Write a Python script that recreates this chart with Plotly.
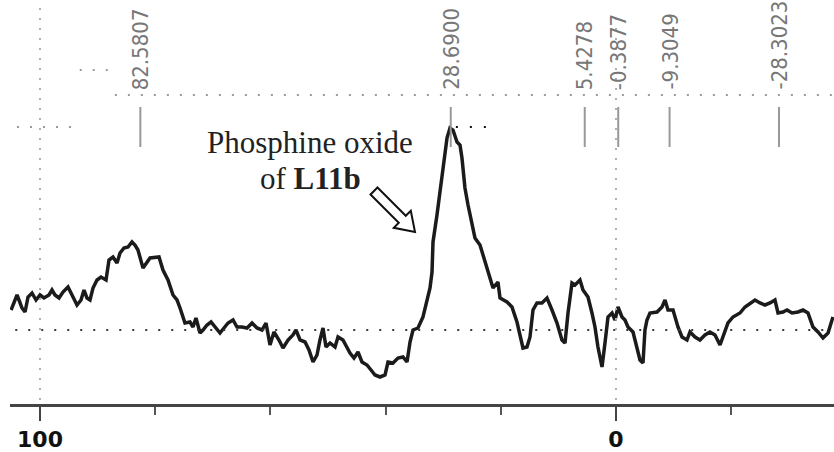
import plotly.graph_objects as go

# ── Spectrum ──────────────────────────────────────────────────────────────────
ppm = [105.03, 104.51, 103.99, 103.65, 103.13, 102.60, 102.08, 101.39, 100.69, 100.00,
       99.31, 98.44, 97.92, 97.40, 96.70, 96.01, 95.14, 94.44, 93.58, 92.88,
       92.36, 91.84, 91.32, 90.80, 90.10, 89.41, 88.54, 88.02, 87.33, 86.63,
       86.11, 85.42, 84.72, 84.03, 83.51, 82.99, 82.12, 80.90, 79.34, 78.65,
       77.78, 76.91, 76.22, 75.69, 75.35, 74.83, 73.96, 73.44, 72.92, 72.22,
       71.70, 71.01, 70.31, 69.62, 68.75, 68.06, 67.36, 66.49, 65.80, 64.93,
       64.06, 63.19, 62.33, 61.46, 60.76, 60.07, 59.38, 58.51, 57.81, 56.94,
       56.08, 55.56, 54.86, 53.99, 53.30, 52.60, 51.91, 51.39, 50.87, 50.35,
       49.65, 48.78, 48.26, 47.40, 46.70, 46.18, 45.49, 44.79, 44.10, 43.23,
       42.53, 41.84, 40.97, 40.10, 39.58, 38.72, 37.85, 36.98, 36.28, 35.76,
       35.24, 34.38, 33.51, 33.16, 32.29, 31.94, 31.77, 31.08, 30.56, 30.03,
       29.34, 28.82, 28.30, 27.60, 27.08, 26.74, 26.22, 25.69, 25.00, 24.48,
       23.61, 22.74, 21.88, 21.35, 20.49, 20.14, 18.92, 18.06, 17.19, 16.67,
       16.15, 15.45, 14.93, 14.41, 13.72, 12.85, 11.98, 11.11, 10.24, 9.38,
       8.85, 8.33, 7.64, 7.12, 6.25, 5.73, 4.86, 4.17, 3.65, 3.13,
       2.43, 1.91, 1.39, 0.69, 0.17, -0.35, -1.04, -1.56, -2.08, -2.95,
       -3.65, -4.17, -4.69, -5.03, -5.38, -5.90, -7.12, -7.99, -8.51, -9.03,
       -9.90, -10.76, -11.46, -12.33, -12.85, -13.72, -14.58, -15.45, -16.32, -17.19,
       -18.06, -18.58, -19.44, -20.31, -21.53, -22.40, -23.26, -24.13, -25.00, -25.87,
       -26.74, -27.60, -28.13, -28.99, -29.69, -30.56, -31.60, -32.47, -33.33, -34.20,
       -35.07, -35.94, -36.81, -37.50, -37.67]
intensidade = [20, 28, 35, 30, 22, 18, 33, 37, 30, 35,
               32, 35, 40, 35, 32, 38, 43, 35, 25, 30,
               40, 32, 30, 42, 50, 53, 50, 70, 73, 67,
               77, 82, 83, 88, 85, 80, 62, 72, 73, 60,
               50, 35, 30, 22, 15, 7, 8, 3, 12, -3,
               0, 5, 8, 3, -3, 2, 7, 10, 3, 3,
               2, 7, 2, 0, 7, -15, -2, -10, -18, -10,
               -5, 0, -10, -12, -20, -32, -25, -10, 2, -17,
               -13, -17, -7, -10, -17, -23, -28, -22, -32, -35,
               -40, -45, -47, -45, -32, -33, -28, -27, -32, -12,
               0, 2, 13, 22, 42, 58, 88, 115, 138, 165,
               192, 202, 200, 188, 185, 172, 142, 125, 108, 92,
               85, 68, 52, 42, 48, 32, 28, 23, 8, -7,
               -18, -17, -7, 20, 27, 27, 32, 20, 7, -10,
               -13, 17, 47, 45, 50, 40, 33, 17, 3, -17,
               -37, -13, 13, 17, 10, 23, 13, 10, 3, -2,
               -17, -30, -33, 0, 10, 17, 18, 23, 30, 20,
               20, 3, -7, -10, -2, -7, -10, -5, -2, -5,
               -15, -7, 7, 13, 17, 23, 27, 30, 27, 25,
               27, 30, 17, 18, 20, 17, 18, 20, 17, 3,
               -2, -8, -3, 12, 13]

# picos marcados no topo
picos = [82.5807, 28.6900, 5.4278, -0.3877, -9.3049, -28.3023]
picos_txt = ["82.5807", "28.6900", "5.4278", "-0.3877", "-9.3049", "-28.3023"]

eixo_vals = [100, 0]
eixo_txt = ["100", "0"]

# ── Geometria da janela ───────────────────────────────────────────────────────
W, H = 834, 452
ML, MB = 10, 48
X_RANGE = [105.21, -37.85]
Y_RANGE = [-74, 330]


def px(xp, yp):
    """pixel da janela -> coordenadas paper"""
    return (xp - ML) / (W - ML), 1 - yp / (H - MB)


fig = go.Figure()

fig.add_trace(go.Scatter(
    x=ppm, y=intensidade, mode="lines",
    line=dict(color="#1b1b1b", width=3.5),
    hoverinfo="skip", showlegend=False,
))

# ── Linhas pontilhadas de referência ──────────────────────────────────────────
pont_cinza = dict(color="#9a9a9a", width=2, dash="2px,11px")
pont_escuro = dict(color="#3a3a3a", width=2, dash="2px,11px")
pont_vert = dict(color="#b0b0b0", width=2, dash="2px,8px")

fig.add_shape(type="line", xref="x", yref="y", x0=104.3, x1=X_RANGE[1], y0=0, y1=0, line=pont_escuro)
fig.add_shape(type="line", xref="x", yref="y", x0=87.0, x1=X_RANGE[1], y0=235, y1=235, line=pont_cinza)
fig.add_shape(type="line", xref="x", yref="y", x0=93.1, x1=88.2, y0=260, y1=260, line=pont_cinza)
fig.add_shape(type="line", xref="x", yref="y", x0=104.0, x1=93.8, y0=203, y1=203, line=pont_cinza)
fig.add_shape(type="line", xref="x", yref="y", x0=27.8, x1=21.9, y0=203, y1=203,
              line=dict(color="#111", width=2, dash="2px,12px"))
fig.add_shape(type="line", xref="x", yref="y", x0=100, x1=100, y0=-70, y1=325, line=pont_vert)
fig.add_shape(type="line", xref="x", yref="y", x0=0, x1=0, y0=-70, y1=315, line=pont_vert)

# ── Marcadores e rótulos dos picos ────────────────────────────────────────────
for p, t in zip(picos, picos_txt):
    fig.add_shape(type="line", xref="x", yref="y", x0=p, x1=p, y0=183, y1=223,
                  line=dict(color="#999", width=2))
    fig.add_annotation(
        x=p, y=238, xref="x", yref="y", text=t, textangle=-90,
        showarrow=False, xanchor="center", yanchor="bottom",
        font=dict(family="Liberation Sans Narrow, DejaVu Sans Condensed, Arial", size=22, color="#777"),
    )

# ── Texto e seta vazada ───────────────────────────────────────────────────────
for linha, yc in [("Phosphine oxide", 142), ("of <b>L11b</b>", 179)]:
    xa, ya = px(310, yc)
    fig.add_annotation(x=xa, y=ya, xref="paper", yref="paper", text=linha, showarrow=False,
                       xanchor="center", yanchor="middle",
                       font=dict(family="Liberation Serif, Times New Roman", size=31, color="#222"))

seta = [(377.5, 187.5), (405.8, 215.8), (410.8, 210.8), (415, 232),
        (393.8, 227.8), (398.8, 222.8), (370.5, 194.5)]
caminho = "M " + " L ".join("%.4f,%.4f" % px(a, b) for a, b in seta) + " Z"
fig.add_shape(type="path", xref="paper", yref="paper", path=caminho,
              line=dict(color="#111", width=2), fillcolor="white")

fig.update_layout(
    width=W, height=H,
    margin=dict(l=ML, r=0, t=0, b=MB),
    paper_bgcolor="white", plot_bgcolor="white",
    xaxis=dict(
        range=X_RANGE, showgrid=False, zeroline=False,
        showline=True, linecolor="#444", linewidth=3,
        tickmode="array", tickvals=eixo_vals, ticktext=eixo_txt,
        ticks="outside", ticklen=14, tickwidth=2, tickcolor="#444",
        tickfont=dict(family="DejaVu Sans", size=22, color="#111", weight="bold"),
        minor=dict(tickmode="linear", tick0=0, dtick=20, ticks="outside",
                   ticklen=8, tickwidth=2, tickcolor="#555"),
    ),
    yaxis=dict(range=Y_RANGE, visible=False),
)

# a página padrão tem margem de 8px no body
fig.write_html("out.html", config={"displayModeBar": False},
               post_script="document.body.style.margin='0';")
